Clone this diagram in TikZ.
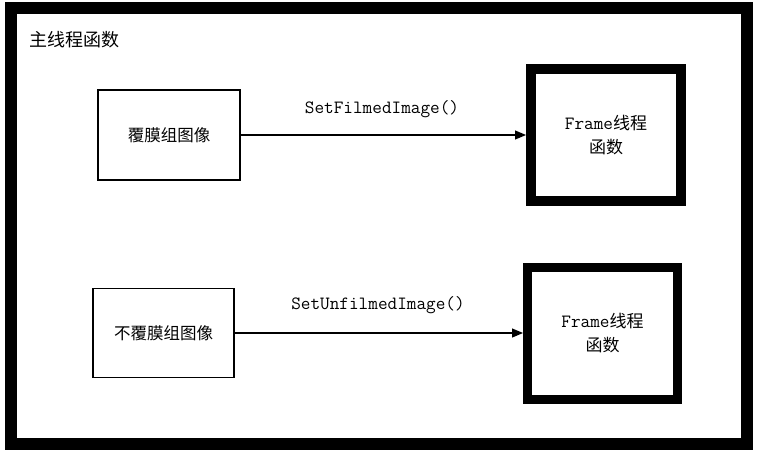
\documentclass[tikz,border=0pt]{standalone}
\usepackage{fontspec}
\usetikzlibrary{arrows.meta}
\newfontfamily\cjk{Noto Sans CJK SC}
\newcommand\monof{\ttfamily\fontsize{18.7}{22}\selectfont}
\begin{document}
\begin{tikzpicture}[x=1pt,y=-1pt,
  plainbox/.style={draw=black,line width=1.2pt,minimum width=142pt,minimum height=90pt,inner sep=0pt,font=\cjk\fontsize{16.5}{20}\selectfont},
  framebox/.style={draw=black,line width=10pt,minimum width=150pt,minimum height=132pt,inner sep=0pt,align=center,font=\fontsize{17}{24}\selectfont},
  conn/.style={line width=1.2pt,-{Triangle[length=11pt,width=9pt]}},
  calllabel/.style={font=\monof,inner sep=0pt}]
\useasboundingbox[fill=white] (0,0) rectangle (760,460);
\node[draw=black,line width=12pt,minimum width=736pt,minimum height=435.5pt,inner sep=0pt] (outer) at (379,226.25) {};
\node[anchor=west,font=\cjk\fontsize{18}{22}\selectfont,inner sep=0pt] (title) at (29,40) {主线程函数};
\node[plainbox] (film) at (169,135) {覆膜组图像};
\node[plainbox,minimum width=141pt,minimum height=89pt] (unfilm) at (163.5,333) {不覆膜组图像};
\node[framebox] (frame1) at (606,135) {{\monof Frame}{\cjk 线程}\\{\cjk 函数}};
\node[framebox,line width=9pt,minimum height=131.5pt] (frame2) at (602.5,333.25) {{\monof Frame}{\cjk 线程}\\{\cjk 函数}};
\draw[conn] (film.east) -- (film.east -| frame1.west);
\draw[conn] (unfilm.east) -- (unfilm.east -| frame2.west);
\node[calllabel] (lab1) at (382,109) {SetFilmedImage()};
\node[calllabel] (lab2) at (378,305) {SetUnfilmedImage()};
\end{tikzpicture}
\end{document}
